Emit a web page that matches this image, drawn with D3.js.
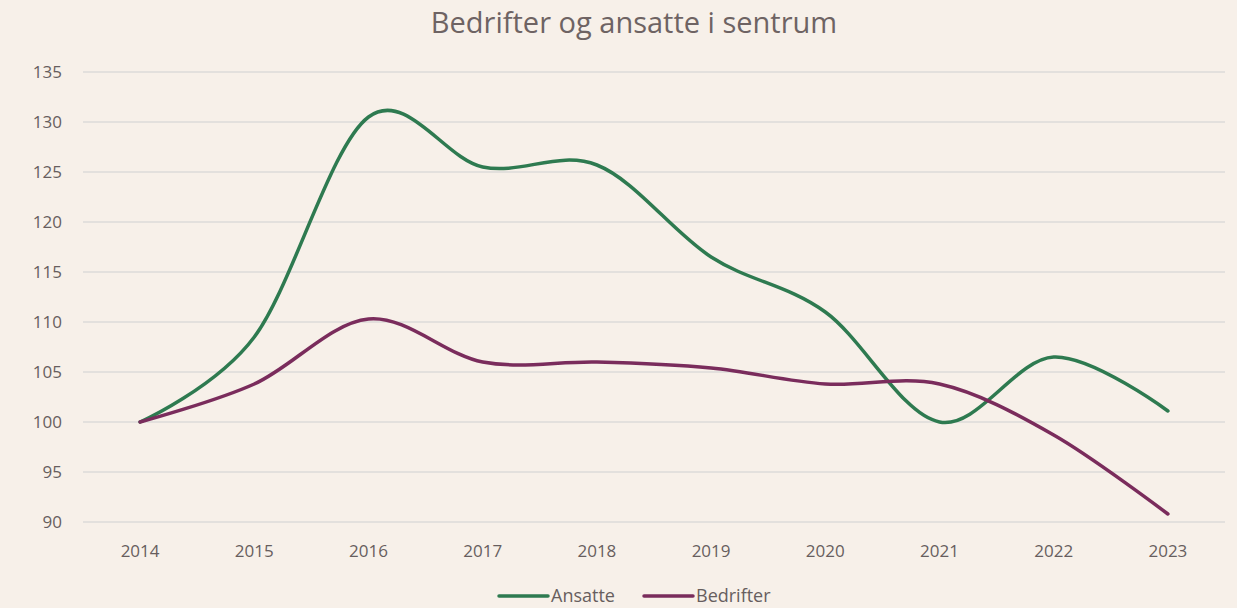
<!DOCTYPE html>
<html>
<head>
<meta charset="utf-8">
<script src="https://d3js.org/d3.v7.min.js"></script>
<style>
  body { margin: 0; background: #f7f0e9; }
  svg { display: block; font-family: "Open Sans", sans-serif; }
</style>
</head>
<body>
<svg id="chart" width="1237" height="608"></svg>
<script>
var years = ["2014", "2015", "2016", "2017", "2018", "2019", "2020", "2021", "2022", "2023"];
var ansatte = [100, 108.5, 130.5, 125.5, 125.7, 116.5, 111, 100, 106.5, 101.1];
var bedrifter = [100, 103.8, 110.3, 106, 106, 105.4, 103.8, 103.8, 98.7, 90.8];
var yTicks = [90, 95, 100, 105, 110, 115, 120, 125, 130, 135];

var width = 1237, height = 608;
var plotLeft = 83, plotRight = 1225, plotTop = 72, plotBottom = 522;
var textColor = "#675e5e";

var svg = d3.select("#chart");
svg.append("rect").attr("width", width).attr("height", height).attr("fill", "#f7f0e9");

var x = d3.scaleBand().domain(years).range([plotLeft, plotRight]);
var y = d3.scaleLinear().domain([90, 135]).range([plotBottom, plotTop]);

// grid
svg.append("g").selectAll("line").data(yTicks).join("line")
  .attr("x1", plotLeft).attr("x2", plotRight)
  .attr("y1", d => y(d)).attr("y2", d => y(d))
  .attr("stroke", "#dddbd9").attr("stroke-width", 1.3);

// y labels
svg.append("g").selectAll("text").data(yTicks).join("text")
  .attr("x", 62).attr("y", d => y(d)).attr("dy", "0.35em")
  .attr("text-anchor", "end").attr("fill", textColor).attr("font-size", 17)
  .text(d => d);

// x labels
svg.append("g").selectAll("text").data(years).join("text")
  .attr("x", d => x(d) + x.bandwidth() / 2).attr("y", 557)
  .attr("text-anchor", "middle").attr("fill", textColor).attr("font-size", 17)
  .text(d => d);

var line = d3.line()
  .x((d, i) => x(years[i]) + x.bandwidth() / 2)
  .y(d => y(d))
  .curve(d3.curveCardinal.tension(0));

var series = [
  { name: "Ansatte", values: ansatte, color: "#2e7a50" },
  { name: "Bedrifter", values: bedrifter, color: "#7a2c5c" }
];

svg.append("g").selectAll("path").data(series).join("path")
  .attr("d", d => line(d.values))
  .attr("fill", "none").attr("stroke", d => d.color)
  .attr("stroke-width", 3.5).attr("stroke-linecap", "round");

// title
svg.append("text").attr("x", 634).attr("y", 33).attr("text-anchor", "middle")
  .attr("fill", "#6e6363").attr("font-size", 29).text("Bedrifter og ansatte i sentrum");

// legend
var legX = [499, 644];
var leg = svg.append("g").selectAll("g").data(series).join("g")
  .attr("transform", (d, i) => "translate(" + legX[i] + ",596)");
leg.append("line").attr("x1", 0).attr("x2", 49)
  .attr("stroke", d => d.color).attr("stroke-width", 3.5).attr("stroke-linecap", "round");
leg.append("text").attr("x", 52).attr("dy", "0.35em")
  .attr("fill", textColor).attr("font-size", 18).text(d => d.name);
</script>
</body>
</html>
